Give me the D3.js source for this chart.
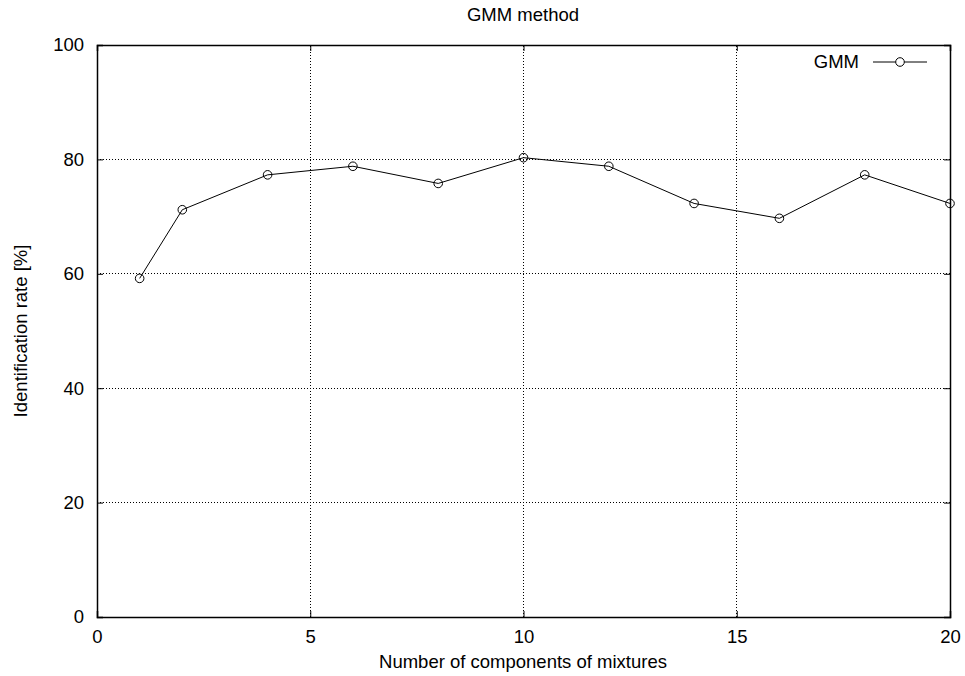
<!DOCTYPE html>
<html>
<head>
<meta charset="utf-8">
<script src="https://cdn.jsdelivr.net/npm/d3@7"></script>
<style>
  body { margin: 0; background: #fff; }
  text { font-family: "Liberation Sans", Arial, sans-serif; font-size: 18.5px; fill: #000; }
</style>
</head>
<body>
<script>
// data
var components = [1, 2, 4, 6, 8, 10, 12, 14, 16, 18, 20]
var gmmRate = [59.2, 71.2, 77.3, 78.8, 75.8, 80.3, 78.8, 72.3, 69.7, 77.3, 72.3]
var xTicks = [0, 5, 10, 15, 20]
var yTicks = [0, 20, 40, 60, 80, 100]

var W = 965, H = 676
var margin = { left: 97, right: 15, top: 45, bottom: 59 }
var fs = "18.5px"

var svg = d3.select("body")
  .append("svg")
  .attr("width", W)
  .attr("height", H)

var x = d3.scaleLinear().domain([0, 20]).range([margin.left, W - margin.right])
var y = d3.scaleLinear().domain([0, 100]).range([H - margin.bottom, margin.top])

// dotted grid
svg.selectAll(".gx")
  .data(xTicks.slice(1, -1))
  .enter().append("line")
  .attr("x1", d => x(d)).attr("x2", d => x(d))
  .attr("y1", y(0)).attr("y2", y(100))
  .attr("stroke", "#000").attr("stroke-width", 1)
  .attr("stroke-dasharray", "1,2")
  .attr("shape-rendering", "crispEdges")

svg.selectAll(".gy")
  .data(yTicks.slice(1, -1))
  .enter().append("line")
  .attr("x1", x(0)).attr("x2", x(20))
  .attr("y1", d => y(d)).attr("y2", d => y(d))
  .attr("stroke", "#000").attr("stroke-width", 1)
  .attr("stroke-dasharray", "1,2")
  .attr("shape-rendering", "crispEdges")

// axes with inward ticks, mirrored like gnuplot
var tk = 6
svg.append("g").attr("transform", "translate(0," + y(0) + ")")
  .call(d3.axisBottom(x).tickValues(xTicks).tickSize(-tk).tickPadding(13))
svg.append("g").attr("transform", "translate(0," + y(100) + ")")
  .call(d3.axisTop(x).tickValues(xTicks).tickSize(-tk).tickFormat(""))
svg.append("g").attr("transform", "translate(" + x(0) + ",0)")
  .call(d3.axisLeft(y).tickValues(yTicks).tickSize(-tk).tickPadding(13))
svg.append("g").attr("transform", "translate(" + x(20) + ",0)")
  .call(d3.axisRight(y).tickValues(yTicks).tickSize(-tk).tickFormat(""))

svg.selectAll(".domain").attr("stroke", "#000").attr("stroke-width", 1.5)
svg.selectAll(".tick line").attr("stroke", "#000").attr("stroke-width", 1)
svg.selectAll(".tick text").style("font-size", fs)
  .style("font-family", "Liberation Sans, Arial, sans-serif")

// series
var pts = components.map((c, i) => [c, gmmRate[i]])
svg.append("path")
  .datum(pts)
  .attr("fill", "none")
  .attr("stroke", "#000")
  .attr("stroke-width", 1)
  .attr("d", d3.line().x(d => x(d[0])).y(d => y(d[1])))

svg.selectAll(".pt")
  .data(pts)
  .enter().append("circle")
  .attr("cx", d => x(d[0])).attr("cy", d => y(d[1]))
  .attr("r", 4.3)
  .attr("fill", "none").attr("stroke", "#000").attr("stroke-width", 1)

// legend
var lg = svg.append("g")
lg.append("text").attr("x", 859).attr("y", 68).attr("text-anchor", "end").text("GMM")
lg.append("line").attr("x1", 873).attr("x2", 927).attr("y1", 62).attr("y2", 62)
  .attr("stroke", "#000").attr("stroke-width", 1)
lg.append("circle").attr("cx", 900).attr("cy", 62).attr("r", 4.3)
  .attr("fill", "#fff").attr("stroke", "#000").attr("stroke-width", 1)

// titles
svg.append("text").attr("x", 523).attr("y", 21).attr("text-anchor", "middle").text("GMM method")
svg.append("text").attr("x", 523).attr("y", 668).attr("text-anchor", "middle")
  .text("Number of components of mixtures")
svg.append("text").attr("transform", "translate(27,331) rotate(-90)")
  .attr("text-anchor", "middle").text("Identification rate [%]")
</script>
</body>
</html>
